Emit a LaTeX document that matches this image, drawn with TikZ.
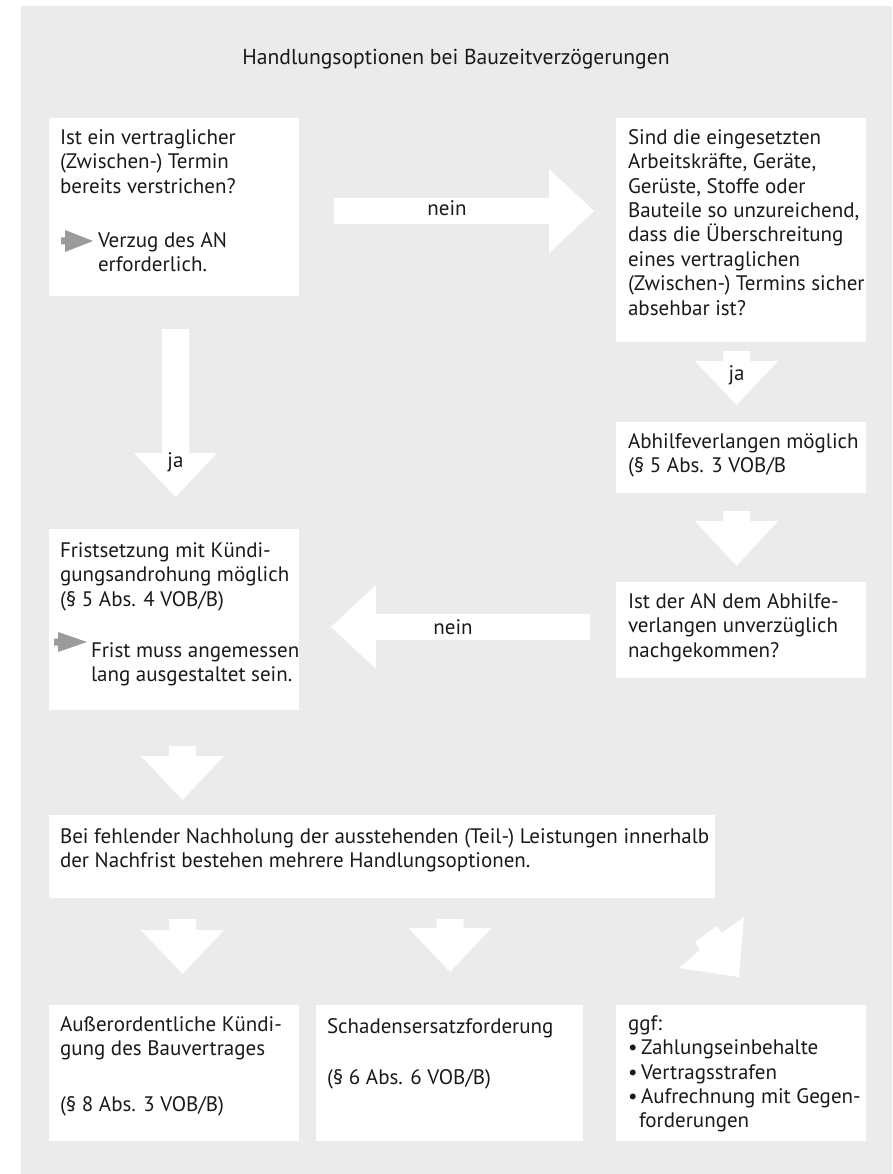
\documentclass[tikz,border=0pt]{standalone}
\usepackage{fontspec}
\setmainfont{PT Sans}
\definecolor{bg}{HTML}{EBEBEB}
\definecolor{ink}{HTML}{1A1A1A}
\definecolor{pointer}{HTML}{9B9B9B}
\newcommand\fs{\fontsize{21}{24.4}\selectfont}
\newcommand\blockdown[4]{\fill[blockarrow] (#1-13.5,#2) -- (#1+13.5,#2) -- (#1+13.5,#3) -- (#1+41.5,#3) -- (#1,#4) -- (#1-41.5,#3) -- (#1-13.5,#3) -- cycle;}
\tikzset{
  box/.style={fill=white, draw=none, anchor=north west, inner sep=0pt, outer sep=0pt},
  txt/.style={anchor=north west, inner sep=0pt, outer sep=0pt, align=left, text=ink, font=\fs, execute at begin node=\strut, yshift=17.08pt},
  blockarrow/.style={fill=white},
  lbl/.style={text=ink, font=\fs, inner sep=0pt, anchor=base},
  pointerarrow/.style={fill=pointer}
}
\begin{document}
\begin{tikzpicture}[x=1pt, y=-1pt]
\useasboundingbox (0,0) rectangle (892,1174);
\fill[white] (0,0) rectangle (892,1174);
\fill[bg] (21,6) rectangle (892,1174);

% title
\node[lbl, font=\fontsize{21.6}{25}\selectfont] (title) at (456,65) {Handlungsoptionen bei Bauzeitverzögerungen};

% boxes
\node[box, minimum width=250pt, minimum height=178pt] (q1) at (49,118) {};
\node[box, minimum width=250pt, minimum height=224pt] (q2) at (616,118) {};
\node[box, minimum width=250pt, minimum height=71pt] (abh) at (616,422) {};
\node[box, minimum width=250pt, minimum height=96pt] (q3) at (616,582) {};
\node[box, minimum width=250pt, minimum height=181pt] (frist) at (49,529) {};
\node[box, minimum width=666pt, minimum height=83pt] (opt) at (49,815) {};
\node[box, minimum width=250pt, minimum height=136pt] (kuend) at (49,1005) {};
\node[box, minimum width=267pt, minimum height=136pt] (schad) at (316,1005) {};
\node[box, minimum width=250pt, minimum height=136pt] (ggf) at (616,1005) {};

% texts
\node[txt] (t1) at (60,146.5) {Ist ein vertraglicher\\(Zwischen-) Termin\\bereits verstrichen?};
\node[txt] (t1b) at (98,249.5) {Verzug des AN\\erforderlich.};
\node[txt] (t2) at (628,146.5) {Sind die eingesetzten\\Arbeitskräfte, Geräte,\\Gerüste, Stoffe oder\\Bauteile so unzureichend,\\dass die Überschreitung\\eines vertraglichen\\(Zwischen-) Termins sicher\\absehbar ist?};
\node[txt] (t3) at (628,450.5) {Abhilfeverlangen möglich\\(§ 5 Abs. 3 VOB/B};
\node[txt] (t4) at (628,610.5) {Ist der AN dem Abhilfe-\\verlangen unverzüglich\\nachgekommen?};
\node[txt] (t5) at (60,559.5) {Fristsetzung mit Kündi-\\gungsandrohung möglich\\(§ 5 Abs. 4 VOB/B)};
\node[txt] (t5b) at (91,659.5) {Frist muss angemessen\\lang ausgestaltet sein.};
\node[txt] (t6) at (60,845.5) {Bei fehlender Nachholung der ausstehenden (Teil-) Leistungen innerhalb\\der Nachfrist bestehen mehrere Handlungsoptionen.};
\node[txt] (t7) at (60,1033.5) {Außerordentliche Kündi-\\gung des Bauvertrages};
\node[txt] (t7b) at (60,1111) {(§ 8 Abs. 3 VOB/B)};
\node[txt] (t8) at (327,1033.5) {Schadensersatzforderung};
\node[txt] (t8b) at (327,1084.5) {(§ 6 Abs. 6 VOB/B)};
\node[txt] (t9) at (628,1032.5) {ggf:\\\makebox[13pt][l]{•}Zahlungseinbehalte\\\makebox[13pt][l]{•}Vertragsstrafen\\\makebox[13pt][l]{•}Aufrechnung mit Gegen-\\\hspace*{11pt}forderungen};

% small grey pointer arrows
\fill[pointerarrow] (61,237.5) -- (65,237.5) -- (65,230) -- (93,241) -- (65,252) -- (65,244.5) -- (61,244.5) -- cycle;
\fill[pointerarrow] (54,638.5) -- (58,638.5) -- (58,632) -- (87,642) -- (58,652) -- (58,645.5) -- (54,645.5) -- cycle;

% block arrows
\fill[blockarrow] (334,198) -- (549,198) -- (549,169) -- (594,211) -- (549,253) -- (549,224) -- (334,224) -- cycle;
\node[lbl] (nein1) at (447,216) {nein};
\fill[blockarrow] (590,614) -- (376,614) -- (376,585) -- (331,627) -- (376,669) -- (376,640) -- (590,640) -- cycle;
\node[lbl] (nein2) at (453,634) {nein};
\blockdown{175.5}{329}{453}{497}
\node[lbl] (ja1) at (175.5,467) {ja};
\blockdown{736.5}{351}{361}{405}
\node[lbl] (ja2) at (736.5,380) {ja};
\blockdown{736.5}{511}{521}{566}
\blockdown{182.5}{746}{756}{800}
\blockdown{182.5}{919}{930}{974}
\blockdown{450}{919}{928}{972}
\fill[blockarrow] (717,926) -- (722,933) -- (744,917) -- (739,977) -- (679,968) -- (700,950) -- (695,942) -- cycle;
\end{tikzpicture}
\end{document}
